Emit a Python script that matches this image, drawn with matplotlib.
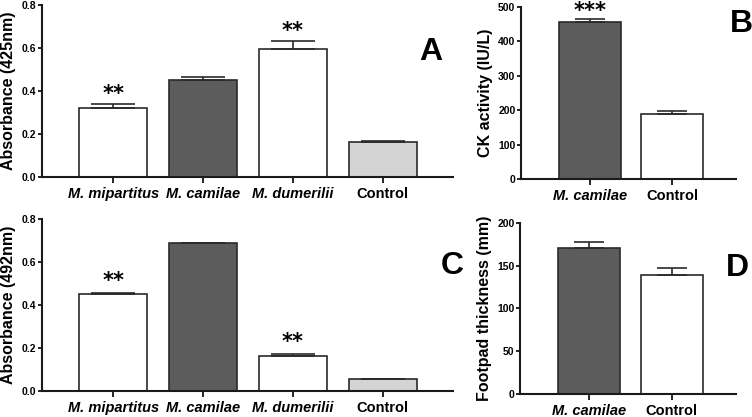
import matplotlib
matplotlib.use("Agg")
import matplotlib.pyplot as plt

plt.rcParams['font.family'] = ['Liberation Sans', 'DejaVu Sans']

species = ['M. mipartitus', 'M. camilae', 'M. dumerilii', 'Control']
fills4 = ['white', '#5c5c5c', 'white', '#d4d4d4']

abs425 = [0.322, 0.452, 0.597, 0.163]
abs425_err = [0.016, 0.013, 0.036, 0.003]
stars425 = ['**', '', '**', '']

abs492 = [0.449, 0.686, 0.165, 0.055]
abs492_err = [0.008, 0.004, 0.007, 0.003]
stars492 = ['**', '', '**', '']

groups2 = ['M. camilae', 'Control']
fills2 = ['#5c5c5c', 'white']

ck = [455, 190]
ck_err = [10, 7]
ck_stars = ['***', '']

footpad = [171, 139]
footpad_err = [7, 8]
footpad_stars = ['', '']

fig = plt.figure(figsize=(7.52, 4.17), dpi=100)


def panel(rect, labels, vals, errs, stars, fills, ylim, yticks, ylabel, xlim, cap, fmt, star_off):
    ax = fig.add_axes(rect)
    x = list(range(len(vals)))
    ax.bar(x, vals, width=0.755, color=fills, edgecolor='#2a2a2a', linewidth=1.2, zorder=2)
    ax.errorbar(x, vals, yerr=[[0] * len(vals), errs], fmt='none', ecolor='#2a2a2a',
                elinewidth=1.2, capsize=cap, capthick=1.2, zorder=3)
    for xi, v, e, s in zip(x, vals, errs, stars):
        if s:
            ax.text(xi, v + e + star_off, s, ha='center', va='bottom', fontsize=15,
                    family='DejaVu Sans', fontweight='bold')
    ax.set_xlim(*xlim)
    ax.set_ylim(*ylim)
    ax.set_yticks(yticks)
    ax.set_yticklabels([fmt.format(t) for t in yticks], fontsize=7.5, fontweight='bold')
    ax.set_xticks(x)
    ax.set_xticklabels(labels, fontsize=10.5, fontweight='bold')
    for lab in ax.get_xticklabels():
        if lab.get_text().startswith('M.'):
            lab.set_style('italic')
    ax.set_ylabel(ylabel, fontsize=11.5, fontweight='bold', labelpad=4)
    for sp in ['top', 'right']:
        ax.spines[sp].set_visible(False)
    for sp in ['left', 'bottom']:
        ax.spines[sp].set_linewidth(1.5)
        ax.spines[sp].set_color('#1a1a1a')
    ax.tick_params(axis='y', length=3, width=1.2, pad=1)
    ax.tick_params(axis='x', length=4, width=1.2, pad=3)
    return ax


panel([0.0559, 0.5755, 0.5465, 0.4125], species, abs425, abs425_err, stars425, fills4,
      (0, 0.8), [0, 0.2, 0.4, 0.6, 0.8], 'Absorbance (425nm)', (-0.79, 3.78), 15.5,
      '{:.1f}', 0.0)
panel([0.0559, 0.0624, 0.5465, 0.4125], species, abs492, abs492_err, stars492, fills4,
      (0, 0.8), [0, 0.2, 0.4, 0.6, 0.8], 'Absorbance (492nm)', (-0.79, 3.78), 15.5,
      '{:.1f}', 0.008)
panel([0.6928, 0.5707, 0.286, 0.4125], groups2, ck, ck_err, ck_stars, fills2,
      (0, 500), [0, 100, 200, 300, 400, 500], 'CK activity (IU/L)', (-0.84, 1.78), 10.5,
      '{:d}', -6)
panel([0.6915, 0.0552, 0.2875, 0.41], groups2, footpad, footpad_err, footpad_stars, fills2,
      (0, 200), [0, 50, 100, 150, 200], 'Footpad thickness (mm)', (-0.84, 1.78), 10.5,
      '{:d}', 0)

for letter, px, py in [('A', 431, 52), ('B', 741, 24), ('C', 452, 266), ('D', 737, 268)]:
    fig.text(px / 752, 1 - py / 417, letter, fontsize=23, fontweight='bold',
             ha='center', va='center')

fig.savefig('out.png', dpi=100)
